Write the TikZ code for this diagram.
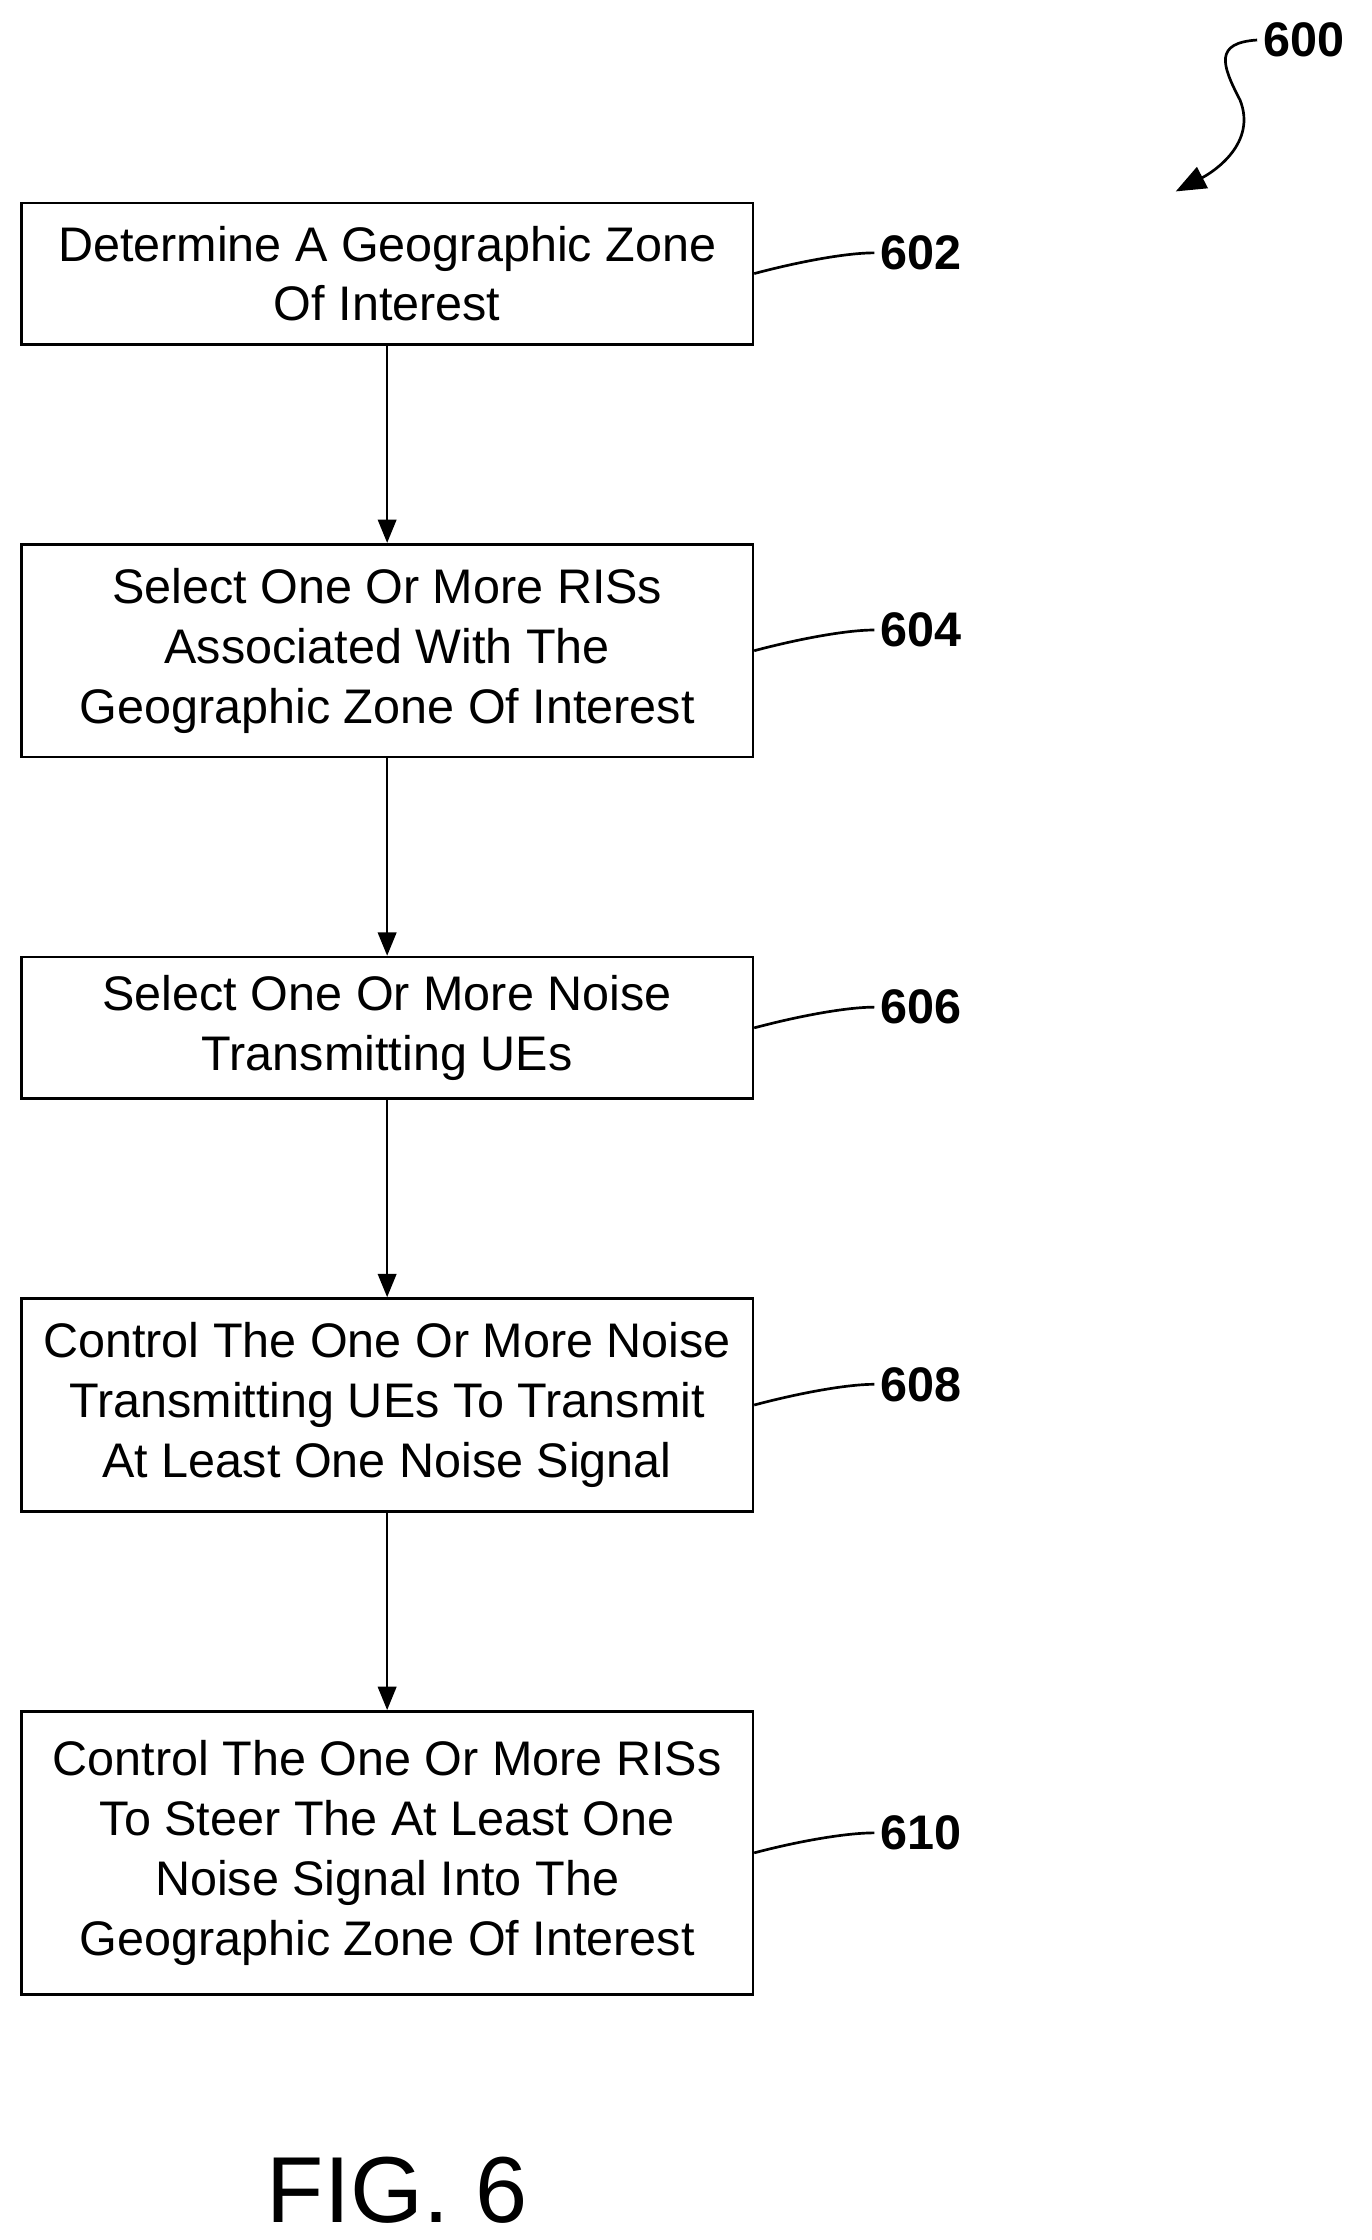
\documentclass[tikz,border=0pt]{standalone}
\usepackage{fontspec}
\setmainfont{Liberation Sans}
\usetikzlibrary{positioning,arrows.meta}
\tikzset{
  flowbox/.style={draw,line width=1.6pt,minimum width=512*0.03cm,align=center,inner sep=0pt,
    font=\fontsize{29}{35.7}\selectfont},
  tag/.style={font=\fontsize{29}{34}\selectfont\bfseries,anchor=west},
  flow/.style={-{Triangle[length=14pt,width=11pt]},line width=1.6pt},
  lead/.style={line width=1.6pt}
}
\begin{document}
\begin{tikzpicture}[x=0.03cm,y=-0.03cm]
  \useasboundingbox (0,0) rectangle (960,1568);
  \node[flowbox,minimum height=99*0.03cm] (s602) at (271,191.5) {Determine A Geographic Zone\\Of Interest};
  \node[flowbox,minimum height=149*0.03cm] (s604) at (271,455.5) {Select One Or More RISs\\Associated With The\\Geographic Zone Of Interest};
  \node[flowbox,minimum height=99*0.03cm] (s606) at (271,719.5) {Select One Or More Noise\\Transmitting UEs};
  \node[flowbox,minimum height=149*0.03cm] (s608) at (271,983.5) {Control The One Or More Noise\\Transmitting UEs To Transmit\\At Least One Noise Signal};
  \node[flowbox,minimum height=198*0.03cm] (s610) at (271,1297) {Control The One Or More RISs\\To Steer The At Least One\\Noise Signal Into The\\Geographic Zone Of Interest};

  \draw[flow] (s602) -- (s604);
  \draw[flow] (s604) -- (s606);
  \draw[flow] (s606) -- (s608);
  \draw[flow] (s608) -- (s610);

  % reference numerals
  \node[tag] (t602) at (612,177) {602};
  \node[tag] (t604) at (612,441) {604};
  \node[tag] (t606) at (612,705) {606};
  \node[tag] (t608) at (612,969) {608};
  \node[tag] (t610) at (612,1283) {610};
  \foreach \n in {602,604,606,608,610}
    \draw[lead] (s\n.east) .. controls +(30,-8) and +(-20,0) .. (t\n.west);

  \node[tag] (t600) at (880,28) {600};
  \coordinate (tip) at (823,134);
  \draw[lead,-{Triangle[length=18pt,width=14pt]}] (t600.west) .. controls (850,30) and (855,45) .. (868,70) .. controls (880,100) and (850,120) .. (tip);

  \node[font=\fontsize{56}{60}\selectfont] (fig) at (278,1533) {FIG. 6};
\end{tikzpicture}
\end{document}
